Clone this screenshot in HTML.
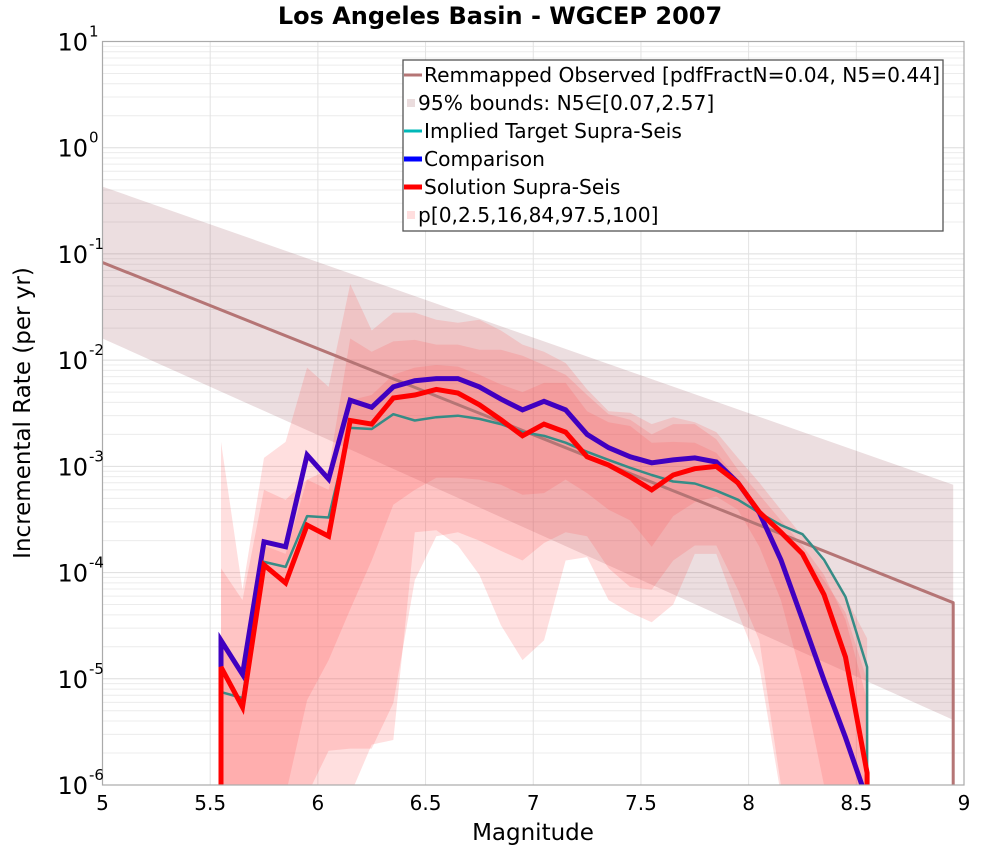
<!DOCTYPE html>
<html>
<head>
<meta charset="utf-8">
<style>
  html,body{margin:0;padding:0;background:#fff;}
  body{width:1000px;height:850px;overflow:hidden;font-family:"DejaVu Sans","Liberation Sans",sans-serif;}
  svg{display:block;}
  svg text{font-family:"DejaVu Sans","Liberation Sans",sans-serif;}
</style>
</head>
<body>
<svg id="chart" width="1000" height="850" viewBox="0 0 1000 850" xmlns="http://www.w3.org/2000/svg" overflow="hidden">
  <defs>
    <clipPath id="plotClip"><rect x="102.5" y="41.5" width="861.5" height="743.5"/></clipPath>
  </defs>
  <text x="500" y="24" text-anchor="middle" font-size="24" font-weight="bold" fill="#000">Los Angeles Basin - WGCEP 2007</text>
  <g id="grid"></g>
  <g id="marks" clip-path="url(#plotClip)"></g>
  <rect x="102.5" y="41.5" width="861.5" height="743.5" fill="none" stroke="#aaa" stroke-width="1.2"/>
  <g id="xticks"></g>
  <g id="yticks"></g>
  <text x="533" y="840" text-anchor="middle" font-size="23" fill="#000">Magnitude</text>
  <text transform="translate(30,413) rotate(-90)" text-anchor="middle" font-size="23" fill="#000">Incremental Rate (per yr)</text>
  <g id="legend">
    <rect x="403" y="60" width="540" height="171" fill="#fff" stroke="#555" stroke-width="1.3"/>
  </g>
</svg>
<script>
// ---- data ----
const mags = [5.55,5.65,5.75,5.85,5.95,6.05,6.15,6.25,6.35,6.45,6.55,6.65,6.75,6.85,6.95,7.05,7.15,7.25,7.35,7.45,7.55,7.65,7.75,7.85,7.95,8.05,8.15,8.25,8.35,8.45,8.55];
const comparison = [2.3e-5,1.1e-5,1.95e-4,1.75e-4,1.28e-3,7.6e-4,4.2e-3,3.6e-3,5.6e-3,6.4e-3,6.7e-3,6.7e-3,5.6e-3,4.3e-3,3.4e-3,4.1e-3,3.4e-3,2.0e-3,1.5e-3,1.23e-3,1.08e-3,1.15e-3,1.2e-3,1.1e-3,7.0e-4,3.65e-4,1.32e-4,3.6e-5,9.7e-6,2.8e-6,1e-8];
const solution = [1.29e-5,5.4e-6,1.18e-4,8.0e-5,2.8e-4,2.2e-4,2.7e-3,2.5e-3,4.4e-3,4.7e-3,5.3e-3,4.9e-3,3.8e-3,2.75e-3,1.94e-3,2.5e-3,2.1e-3,1.23e-3,1.03e-3,8.0e-4,6.0e-4,8.3e-4,9.5e-4,1.0e-3,7.0e-4,3.7e-4,2.4e-4,1.5e-4,6.2e-5,1.6e-5,1.3e-6];
const impliedTarget = [7.5e-6,6.6e-6,1.26e-4,1.13e-4,3.4e-4,3.3e-4,2.3e-3,2.25e-3,3.1e-3,2.7e-3,2.9e-3,3.0e-3,2.8e-3,2.5e-3,2.1e-3,1.94e-3,1.67e-3,1.37e-3,1.15e-3,9.7e-4,8.3e-4,7.2e-4,6.9e-4,5.9e-4,4.85e-4,3.65e-4,2.8e-4,2.3e-4,1.32e-4,5.9e-5,1.29e-5];
const p100 = [1.7e-3,6.9e-5,1.2e-3,1.7e-3,8.5e-3,5.6e-3,5.2e-2,1.9e-2,2.8e-2,2.8e-2,2.4e-2,2.25e-2,2.4e-2,1.9e-2,1.4e-2,1.2e-2,9.4e-3,5.3e-3,3.3e-3,3.2e-3,2.5e-3,2.9e-3,2.6e-3,2.1e-3,1.2e-3,7.0e-4,3.9e-4,2.2e-4,1.24e-4,5.9e-5,2.4e-5];
const p97_5 = [1.1e-4,5.5e-5,6.0e-4,4.85e-4,7.5e-4,9.3e-4,1.6e-2,1.2e-2,1.5e-2,1.55e-2,1.4e-2,1.4e-2,1.25e-2,1.25e-2,1.1e-2,9.0e-3,7.3e-3,4.7e-3,3.1e-3,2.75e-3,2.0e-3,2.5e-3,2.5e-3,1.8e-3,9.3e-4,5.4e-4,3.1e-4,1.8e-4,9.5e-5,3.6e-5,6.3e-6];
const p84 = [2.3e-5,9.7e-6,1.8e-4,1.5e-4,7.5e-4,6.0e-4,4.2e-3,4.7e-3,7.3e-3,8.5e-3,9.0e-3,8.7e-3,7.3e-3,5.9e-3,5.0e-3,6.1e-3,6.1e-3,3.3e-3,2.6e-3,2.4e-3,1.67e-3,1.7e-3,1.67e-3,1.34e-3,7.5e-4,3.9e-4,2.4e-4,1.5e-4,8.5e-5,4.2e-5,9.7e-6];
const p16 = [1e-7,1e-7,1e-7,1e-7,6.3e-6,1.5e-5,4.5e-5,1.3e-4,4.35e-4,6.0e-4,7.8e-4,7.8e-4,7.5e-4,6.7e-4,5.4e-4,5.6e-4,7.5e-4,5.6e-4,3.9e-4,3.1e-4,1.75e-4,3.4e-4,4.6e-4,5.2e-4,3.9e-4,1.75e-4,5.5e-5,9.7e-6,1e-6,1e-7,1e-7];
const p2_5 = [1e-7,1e-7,1e-7,1e-7,1e-7,2.1e-6,2.2e-6,2.2e-6,5.9e-6,8.5e-5,2.2e-4,2.4e-4,2.0e-4,1.6e-4,1.3e-4,1.9e-4,2.4e-4,2.2e-4,1.1e-4,7.3e-5,6.9e-5,1.3e-4,1.8e-4,1.8e-4,6.9e-5,2.3e-5,1e-6,1e-7,1e-7,1e-7,1e-7];
const p0 = [1e-7,1e-7,1e-7,1e-7,1e-7,1e-7,1e-7,2.4e-6,2.65e-6,2.4e-4,2.5e-4,1.8e-4,9.5e-5,3.2e-5,1.5e-5,2.3e-5,1.3e-4,1.4e-4,5.5e-5,4.2e-5,3.4e-5,5.0e-5,1.5e-4,1.5e-4,4.2e-5,1.3e-5,1e-7,1e-7,1e-7,1e-7,1e-7];
const obsMags = [5.0, 8.95];
const observed = [8.3e-2, 5.2e-5];
const boundUpper = [4.3e-1, 6.7e-4];
const boundLower = [1.6e-2, 4.1e-6];
const xTicks = [5,5.5,6,6.5,7,7.5,8,8.5,9];
const xTickLabels = ["5","5.5","6","6.5","7","7.5","8","8.5","9"];
const yExps = [1,0,-1,-2,-3,-4,-5,-6];

// ---- axes ----
const X0=102.5, X1=964, Y0=41.5, Y1=785;
const xMin=5, xMax=9, lMax=1, lMin=-6;
const BOTTOM = 795;
const CLAMP = 800;
function xs(m){ return X0 + (m-xMin)/(xMax-xMin)*(X1-X0); }
function ys(v){ if(!(v>0)) return CLAMP; return Y0 + (lMax-Math.log10(v))/(lMax-lMin)*(Y1-Y0); }
const NS="http://www.w3.org/2000/svg";
function mk(tag, attrs, parent){ const e=document.createElementNS(NS,tag); for(const k in attrs) e.setAttribute(k, attrs[k]); parent.appendChild(e); return e; }

// grid
const grid=document.getElementById('grid');
for(let e=lMin;e<lMax;e++){
  for(let k=1;k<10;k++){
    const y=ys(k*Math.pow(10,e));
    const ln=mk('line',{x1:X0,x2:X1,y1:y,y2:y,stroke:k===1?'#dedede':'#ececec','stroke-width':1},grid);
    
    
  }
}
xTicks.forEach(t=>{
  const x=xs(t);
  const ln=mk('line',{x1:x,x2:x,y1:Y0,y2:Y1,stroke:'#e2e2e2','stroke-width':1},grid);
  
  
});

// tick labels
const xt=document.getElementById('xticks');
xTicks.forEach((t,i)=>{
  const tx=mk('text',{x:xs(t),y:810,'text-anchor':'middle','font-size':20,fill:'#000'},xt);
  tx.textContent=xTickLabels[i];
  
  
});
const yt=document.getElementById('yticks');
yExps.forEach(e=>{
  const y=ys(Math.pow(10,e));
  const tx=mk('text',{x:88,y:y+9,'text-anchor':'end','font-size':24,fill:'#000'},yt);
  tx.textContent='10';
  
  
  const sp=mk('text',{x:89,y:y-5,'text-anchor':'start','font-size':15,fill:'#000'},yt);
  sp.textContent=String(e);
  
  
});

// ---- marks ----
const marks=document.getElementById('marks');
function bandPath(xsArr, up, lo){
  let d='';
  for(let i=0;i<xsArr.length;i++) d+=(i?'L':'M')+xs(xsArr[i]).toFixed(1)+','+Math.min(ys(up[i]),BOTTOM).toFixed(1);
  for(let i=xsArr.length-1;i>=0;i--) d+='L'+xs(xsArr[i]).toFixed(1)+','+Math.min(ys(lo[i]),BOTTOM).toFixed(1);
  return d+'Z';
}
function linePath(xsArr, vals, dropStart, dropEnd){
  let d='';
  if(dropStart) d+='M'+xs(xsArr[0]).toFixed(1)+','+BOTTOM;
  for(let i=0;i<xsArr.length;i++) d+=((i||dropStart)?'L':'M')+xs(xsArr[i]).toFixed(1)+','+Math.min(ys(vals[i]),CLAMP).toFixed(1);
  if(dropEnd) d+='L'+xs(xsArr[xsArr.length-1]).toFixed(1)+','+BOTTOM;
  return d;
}
const bb=mk('path',{d:bandPath(obsMags,boundUpper,boundLower),fill:'rgba(140,60,70,0.17)'},marks);


[[p100,p0,'band-p0-p100'],[p97_5,p2_5,'band-p2.5-p97.5'],[p84,p16,'band-p16-p84']].forEach(b=>{
  const p=mk('path',{d:bandPath(mags,b[0],b[1]),fill:'rgba(255,75,75,0.18)'},marks);
  
  
});
const ob=mk('path',{d:linePath(obsMags,observed,false,true),fill:'none',stroke:'#b57575','stroke-width':3,'stroke-linejoin':'round'},marks);


const it=mk('path',{d:linePath(mags,impliedTarget,true,true),fill:'none',stroke:'#368c86','stroke-width':2.5,'stroke-linejoin':'round'},marks);


const cp=mk('path',{d:linePath(mags,comparison,true,false),fill:'none',stroke:'#4000c0','stroke-width':5,'stroke-linejoin':'miter'},marks);


const sl=mk('path',{d:linePath(mags,solution,true,true),fill:'none',stroke:'#ff0000','stroke-width':5,'stroke-linejoin':'miter'},marks);



// ---- legend ----
const lg=document.getElementById('legend');
const legendItems=[
  {t:'Remmapped Observed [pdfFractN=0.04, N5=0.44]',c:'#b57575',k:'line',w:3},
  {t:'95% bounds: N5\u2208[0.07,2.57]',c:'#eadcdd',k:'sq'},
  {t:'Implied Target Supra-Seis',c:'#00b8b8',k:'line',w:3},
  {t:'Comparison',c:'#0000ff',k:'line',w:5},
  {t:'Solution Supra-Seis',c:'#ff0000',k:'line',w:5},
  {t:'p[0,2.5,16,84,97.5,100]',c:'#ffdede',k:'sq'}
];
legendItems.forEach((it,i)=>{
  const y=75+i*28;
  let sw;
  if(it.k==='line') sw=mk('line',{x1:404,x2:422,y1:y,y2:y,stroke:it.c,'stroke-width':it.w},lg);
  else sw=mk('rect',{x:407,y:y-4,width:8,height:8,fill:it.c},lg);
  
  
  const tx=mk('text',{x:it.k==='line'?424:418,y:y+7,'font-size':20.2,fill:'#000'},lg);
  tx.textContent=it.t;
  
  
});
</script>
</body>
</html>
